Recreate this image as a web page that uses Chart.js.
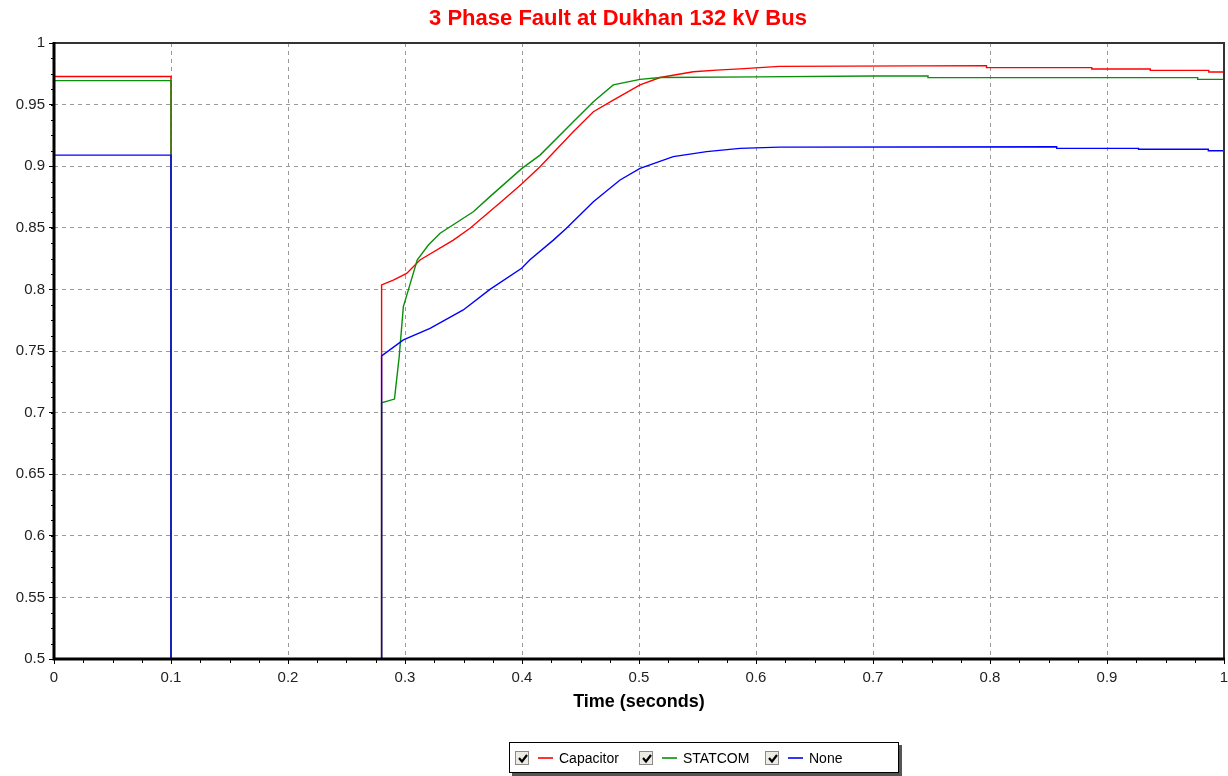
<!DOCTYPE html>
<html>
<head>
<meta charset="utf-8">
<script src="https://cdn.jsdelivr.net/npm/chart.js@4.4.1/dist/chart.umd.min.js"></script>
<style>
  html, body { margin: 0; padding: 0; background: #fff; }
  #wrap { position: relative; width: 1228px; height: 776px; }
  #legend {
    position: absolute; left: 509px; top: 742px; width: 388px; height: 29px;
    border: 1px solid #000; background: #fff; box-shadow: 3px 3px 0 #555;
    font-family: Arial, "Liberation Sans", sans-serif; font-size: 14px; color: #000;
  }
  .item { position: absolute; top: 0; height: 29px; display: flex; align-items: center; }
  .cb { width: 14px; height: 14px; border: 1px solid #8a8a8a; background: #ecece4; box-sizing: border-box; position: relative; }
  .cb svg { position: absolute; left: 1px; top: 1px; }
  .ln { display: block; margin-left: 9px; margin-right: 6px; }
</style>
</head>
<body>
<div id="wrap">
  <canvas id="c" width="1228" height="776"></canvas>
  <div id="legend"></div>
</div>
<script>
// ---- data ----
const chartTitle = "3 Phase Fault at Dukhan 132 kV Bus";
const xAxisTitle = "Time (seconds)";
const seriesNames = ["Capacitor", "STATCOM", "None"];

const capTime = [0, 0.1, 0.1, 0.28, 0.28, 0.29, 0.3014, 0.3128, 0.3413, 0.3556, 0.384, 0.3997, 0.4154, 0.4438, 0.461, 0.478, 0.5009, 0.518, 0.5464, 0.5664, 0.5863, 0.62, 0.797, 0.797, 0.887, 0.887, 0.937, 0.937, 0.987, 0.987, 1.0];
const capVolt = [0.9728, 0.9728, 0, 0, 0.8036, 0.8076, 0.813, 0.8239, 0.840, 0.8496, 0.8726, 0.8856, 0.8996, 0.928, 0.9442, 0.9537, 0.966, 0.972, 0.9767, 0.978, 0.979, 0.981, 0.9816, 0.980, 0.980, 0.9789, 0.9789, 0.9778, 0.9778, 0.9765, 0.9765];

const statTime = [0, 0.1, 0.1, 0.28, 0.28, 0.291, 0.295, 0.2986, 0.303, 0.3105, 0.32, 0.33, 0.3584, 0.3726, 0.3997, 0.4154, 0.4438, 0.461, 0.478, 0.5009, 0.518, 0.6, 0.7, 0.747, 0.747, 0.9775, 0.9775, 1.0];
const statVolt = [0.9695, 0.9695, 0, 0, 0.708, 0.711, 0.745, 0.786, 0.80, 0.824, 0.836, 0.8456, 0.863, 0.8753, 0.898, 0.909, 0.936, 0.9524, 0.966, 0.9705, 0.972, 0.9725, 0.9732, 0.9732, 0.9719, 0.9719, 0.9705, 0.9705];

const noneTime = [0, 0.1, 0.1, 0.28, 0.28, 0.2986, 0.3214, 0.3498, 0.3726, 0.3997, 0.4068, 0.4268, 0.438, 0.461, 0.4838, 0.5009, 0.5293, 0.5578, 0.5863, 0.62, 0.857, 0.857, 0.927, 0.927, 0.9866, 0.9866, 1.0];
const noneVolt = [0.909, 0.909, 0, 0, 0.746, 0.759, 0.7684, 0.7833, 0.80, 0.8171, 0.824, 0.840, 0.8496, 0.8712, 0.8888, 0.8983, 0.9078, 0.9118, 0.9145, 0.9155, 0.9158, 0.9145, 0.9145, 0.9137, 0.9137, 0.9126, 0.9126];

const xMin = 0, xMax = 1, xStep = 0.1, xMinorStep = 0.025;
const yMin = 0.5, yMax = 1, yStep = 0.05, yMinorStep = 0.0125;

const colors = ["#ff0000", "#0a8f0a", "#0000ff"];
const FONT = 'Arial, "Liberation Sans", sans-serif';

function pts(t, v) { return t.map((x, i) => ({ x: x, y: v[i] })); }
function fmt(v) { return String(Number(v.toFixed(4))); }

const axisPlugin = {
  id: 'axisFrame',
  afterDatasetsDraw(chart) {
    const ctx = chart.ctx, a = chart.chartArea;
    const xs = chart.scales.x, ys = chart.scales.y;
    ctx.save();
    ctx.strokeStyle = '#000'; ctx.lineWidth = 1;
    ctx.beginPath();
    for (let v = xMin; v <= xMax + 1e-9; v += xMinorStep) {
      const px = Math.round(xs.getPixelForValue(v)) + 0.5;
      ctx.moveTo(px, a.bottom); ctx.lineTo(px, a.bottom + 4);
    }
    for (let v = yMin; v <= yMax + 1e-9; v += yMinorStep) {
      const py = Math.round(ys.getPixelForValue(v)) + 0.5;
      ctx.moveTo(a.left - 3, py); ctx.lineTo(a.left, py);
    }
    ctx.stroke();
    ctx.strokeStyle = '#333'; ctx.lineWidth = 2;
    ctx.beginPath();
    ctx.moveTo(a.left, a.top); ctx.lineTo(a.right, a.top); ctx.lineTo(a.right, a.bottom);
    ctx.stroke();
    ctx.strokeStyle = '#000'; ctx.lineWidth = 3;
    ctx.beginPath();
    ctx.moveTo(a.left, a.top - 1); ctx.lineTo(a.left, a.bottom); ctx.lineTo(a.right + 1, a.bottom);
    ctx.stroke();
    ctx.restore();
  }
};

new Chart(document.getElementById('c'), {
  type: 'line',
  data: {
    datasets: [
      { label: seriesNames[0], data: pts(capTime, capVolt), borderColor: colors[0], order: 2 },
      { label: seriesNames[1], data: pts(statTime, statVolt), borderColor: colors[1], order: 1 },
      { label: seriesNames[2], data: pts(noneTime, noneVolt), borderColor: colors[2], order: 0 }
    ]
  },
  options: {
    responsive: false,
    animation: false,
    elements: { point: { radius: 0 }, line: { borderWidth: 1.4, tension: 0 } },
    layout: { padding: { left: 12, right: 4, top: 0, bottom: 60 } },
    plugins: {
      legend: { display: false },
      tooltip: { enabled: false },
      title: {
        display: true, text: chartTitle, color: '#ff0000',
        font: { family: FONT, size: 22, weight: 'bold' },
        padding: { top: 6, bottom: 10.6 }
      }
    },
    scales: {
      x: {
        type: 'linear', min: xMin, max: xMax,
        ticks: { stepSize: xStep, color: '#222', font: { family: FONT, size: 15 }, padding: 5, maxRotation: 0, callback: (v) => fmt(v) },
        grid: { color: '#9a9a9a', lineWidth: 1, tickLength: 5, tickColor: '#000', tickBorderDash: [], tickWidth: 1 },
        border: { display: false, dash: [4, 4] },
        title: { display: true, text: xAxisTitle, color: '#000', font: { family: FONT, size: 18, weight: 'bold' }, padding: { top: 0, bottom: 3 } },
        afterFit(s) { s.height = 57; s.paddingRight = 0; s.paddingLeft = 0; }
      },
      y: {
        min: yMin, max: yMax,
        ticks: { stepSize: yStep, color: '#222', font: { family: FONT, size: 15 }, padding: 4, callback: (v) => fmt(v) },
        grid: { color: '#9a9a9a', lineWidth: 1, tickLength: 5, tickColor: '#000', tickBorderDash: [], tickWidth: 1 },
        border: { display: false, dash: [4, 4] },
        afterFit(s) { s.width = 42; s.paddingTop = 0; s.paddingBottom = 0; }
      }
    }
  },
  plugins: [axisPlugin]
});

// HTML legend
const lg = document.getElementById('legend');
const lefts = [5, 129, 255];
seriesNames.forEach((n, i) => {
  const d = document.createElement('div');
  d.className = 'item';
  d.style.left = lefts[i] + 'px';
  d.innerHTML = '<div class="cb"><svg width="12" height="12" viewBox="0 0 12 12"><polyline points="2,5 5,8.5 10,2" fill="none" stroke="#000" stroke-width="2.2"/></svg></div>' +
    '<svg class="ln" width="15" height="4" viewBox="0 0 15 4"><line x1="0" y1="2" x2="15" y2="2" stroke="' + colors[i] + '" stroke-width="1.6"/></svg><span>' + n + '</span>';
  lg.appendChild(d);
});
</script>
</body>
</html>
